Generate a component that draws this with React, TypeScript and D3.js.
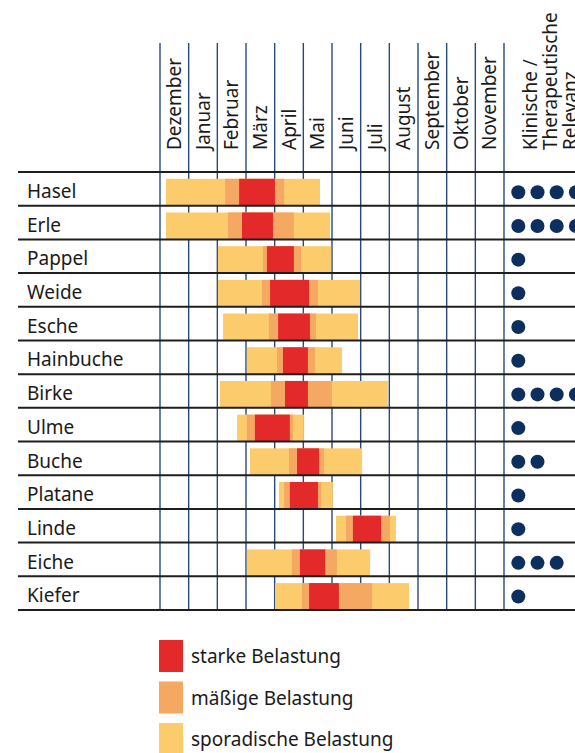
import * as d3 from "d3"

// Pollen calendar: month units, 0 = start of Dezember, 12 = end of November
const months = ["Dezember", "Januar", "Februar", "März", "April", "Mai", "Juni", "Juli", "August", "September", "Oktober", "November"]
const species = ["Hasel", "Erle", "Pappel", "Weide", "Esche", "Hainbuche", "Birke", "Ulme", "Buche", "Platane", "Linde", "Eiche", "Kiefer"]

const sporadicStart = [0.21, 0.21, 2.02, 2.02, 2.2, 3.03, 2.09, 2.69, 3.14, 4.15, 6.14, 3.03, 4.01]
const moderateStart = [2.27, 2.37, 3.59, 3.56, 3.8, 4.08, 3.87, 3.03, 4.5, 4.33, 6.49, 4.6, 4.95]
const strongStart = [2.76, 2.86, 3.73, 3.84, 4.12, 4.29, 4.36, 3.31, 4.78, 4.53, 6.73, 4.88, 5.2]
const strongEnd = [4.01, 3.94, 4.67, 5.2, 5.23, 5.16, 5.16, 4.53, 5.55, 5.51, 7.71, 5.76, 6.24]
const moderateEnd = [4.33, 4.67, 4.92, 5.51, 5.44, 5.41, 6.0, 4.64, 5.72, 5.62, 8.02, 6.17, 7.4]
const sporadicEnd = [5.58, 5.93, 5.97, 6.98, 6.91, 6.35, 7.95, 5.02, 7.05, 6.03, 8.23, 7.33, 8.69]

const relevance = [4, 4, 1, 1, 1, 1, 4, 1, 2, 1, 1, 3, 1]

const relevanceHeader = ["Klinische /", "Therapeutische", "Relevanz"]
const legendLabels = ["starke Belastung", "mäßige Belastung", "sporadische Belastung"]

const RED = "#e4292b"
const ORANGE = "#f4a862"
const YELLOW = "#fccb6b"
const NAVY = "#0c2f5e"
const FONT = "'Noto Sans', sans-serif"
const FS = 19

export default function App() {
    const width = 575
    const height = 753

    const x = d3.scaleLinear().domain([0, 12]).range([160, 504])
    const y = d3.scaleBand<string>().domain(species).range([172, 610]).padding(0)
    const bw = y.bandwidth()
    const barTop = 6.8

    const legendY = d3.scaleLinear().domain([0, 1]).range([640, 681.5])
    const legendColors = [RED, ORANGE, YELLOW]

    const dotX = d3.scaleLinear().domain([0, 1]).range([518.3, 537.5])

    const segments = (i: number) =>
        [
            [sporadicStart[i], sporadicEnd[i], YELLOW],
            [moderateStart[i], moderateEnd[i], ORANGE],
            [strongStart[i], strongEnd[i], RED],
        ] as [number, number, string][]

    return (
        <div style={{ position: "absolute", left: 0, top: 0 }}>
            <svg width={width} height={height} style={{ display: "block", fontFamily: FONT }}>
                <rect width={width} height={height} fill="#fff" />

                {/* vertical month lines */}
                {d3.range(0, 13).map((m) => (
                    <line key={m} x1={x(m)} x2={x(m)} y1={43} y2={610} stroke="#27497a" strokeWidth={1.4} />
                ))}

                {/* bars */}
                {species.map((s, i) => {
                    const top = (y(s) ?? 0) + barTop
                    const h = bw - barTop
                    return (
                        <g key={s}>
                            {segments(i).map(([a, b, c], k) => (
                                <rect key={k} x={x(a)} y={top} width={x(b) - x(a)} height={h} fill={c} />
                            ))}
                        </g>
                    )
                })}

                {/* horizontal row lines */}
                {[...species.map((s) => y(s) ?? 0), 610].map((yy, i) => (
                    <line key={i} x1={18} x2={width} y1={yy} y2={yy} stroke="#1e1e1e" strokeWidth={2} />
                ))}

                {/* month labels */}
                {months.map((m, i) => (
                    <text
                        key={m}
                        transform={`translate(${x(i + 0.5) + 6.5},150) rotate(-90)`}
                        textAnchor="start"
                        fontSize={FS}
                        fill="#1a1a1a"
                    >
                        {m}
                    </text>
                ))}

                {/* relevance header */}
                {relevanceHeader.map((t, i) => (
                    <text
                        key={t}
                        transform={`translate(${537 + i * 20},150) rotate(-90)`}
                        textAnchor="start"
                        fontSize={FS}
                        fill="#1a1a1a"
                    >
                        {t}
                    </text>
                ))}

                {/* row labels */}
                {species.map((s) => (
                    <text key={s} x={27} y={(y(s) ?? 0) + 26} fontSize={FS} fill="#1a1a1a">
                        {s}
                    </text>
                ))}

                {/* relevance dots */}
                {species.map((s, i) =>
                    d3.range(relevance[i]).map((k) => (
                        <circle key={s + k} cx={dotX(k)} cy={(y(s) ?? 0) + barTop + (bw - barTop) / 2} r={7} fill={NAVY} />
                    )),
                )}

                {/* legend */}
                {legendLabels.map((l, i) => (
                    <g key={l}>
                        <rect x={159} y={legendY(i)} width={24} height={32} fill={legendColors[i]} />
                        <text x={191} y={legendY(i) + 23} fontSize={FS} fill="#1a1a1a">
                            {l}
                        </text>
                    </g>
                ))}
            </svg>
        </div>
    )
}
